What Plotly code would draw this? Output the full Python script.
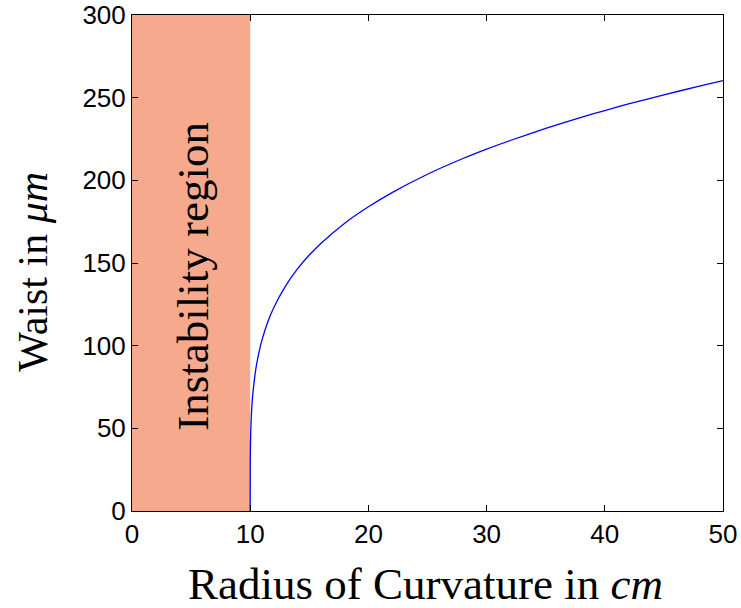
import plotly.graph_objects as go

# Radius of curvature (cm) and waist (µm)
radius = [10.0, 10.001, 10.003, 10.01, 10.03, 10.05, 10.1, 10.2, 10.35, 10.5, 10.75, 11.0, 11.5, 12.0,
          13.0, 14.0, 15.0, 16.0, 18.0, 20.0, 22.0, 25.0, 28.0, 30.0, 32.0, 35.0, 38.0, 40.0,
          42.0, 45.0, 48.0, 50.0]
waist = [0.0, 18.4, 24.2, 32.7, 43.0, 48.9, 58.2, 69.2, 79.2, 87.0, 96.3, 103.5, 114.6, 123.1,
         136.2, 146.4, 154.8, 162.0, 174.1, 184.0, 192.6, 203.7, 213.2, 218.9, 224.1, 231.4, 238.1, 242.2,
         246.2, 251.7, 257.0, 260.3]

region_x = [0, 10]
region_y = [0, 300]
region_label = "Instability region"

x_ticks = [0, 10, 20, 30, 40, 50]
y_ticks = [0, 50, 100, 150, 200, 250, 300]

serif = "Liberation Serif, Times New Roman, serif"
sans = "Liberation Sans, Arial, Helvetica, sans-serif"

fig = go.Figure()
fig.add_trace(go.Scatter(x=radius, y=waist, mode="lines",
                         line=dict(color="#0000FF", width=1.3, shape="spline", smoothing=0.6),
                         showlegend=False, hoverinfo="skip"))

fig.add_shape(type="rect", xref="x", yref="y", x0=region_x[0], x1=region_x[1],
              y0=region_y[0], y1=region_y[1], fillcolor="#F7A98D", line=dict(width=0), layer="below")

fig.add_annotation(x=(region_x[0] + region_x[1]) / 2 + 0.2, y=142, xref="x", yref="y",
                   text=region_label, showarrow=False, textangle=-90,
                   font=dict(family=serif, size=45, color="black"))

# axis titles
fig.add_annotation(x=0.497, y=-0.148, xref="paper", yref="paper",
                   text="Radius of Curvature in <i>cm</i>", showarrow=False,
                   xanchor="center", yanchor="middle",
                   font=dict(family=serif, size=45, color="black"))
fig.add_annotation(x=-0.168, y=0.482, xref="paper", yref="paper",
                   text="Waist in <i>μm</i>", showarrow=False, textangle=-90,
                   xanchor="center", yanchor="middle",
                   font=dict(family=serif, size=42, color="black"))

axis_common = dict(showgrid=False, zeroline=False, showline=True, linecolor="black", linewidth=1,
                   mirror="ticks", ticks="inside", ticklen=6, tickcolor="black", tickwidth=1,
                   automargin=False,
                   tickfont=dict(family=sans, size=26, color="black"))

fig.update_xaxes(range=[0, 50], tickvals=x_ticks, ticktext=[str(v) for v in x_ticks], **axis_common)
fig.update_yaxes(range=[0, 300], tickvals=y_ticks, ticktext=[str(v) for v in y_ticks], **axis_common)

fig.update_layout(width=741, height=608, margin=dict(l=132, r=18, t=15, b=97),
                  plot_bgcolor="white", paper_bgcolor="white")

fig.write_html("out.html")
